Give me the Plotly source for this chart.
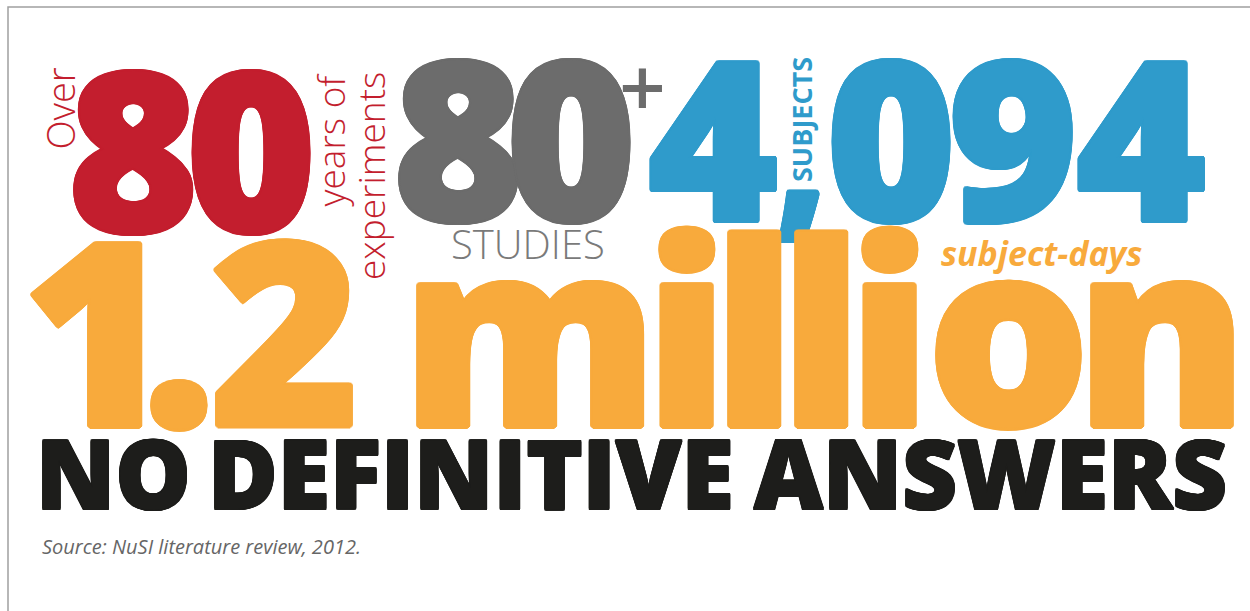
import math
import plotly.graph_objects as go

# ---- content (data) ----
years_value = "80"
studies_value = "80"
subjects_value = "4,094"
subject_days_value = "1.2 million"
over_label = "Over"
years_label_1 = "years of"
years_label_2 = "experiments"
plus_label = "+"
studies_label = "STUDIES"
subjects_label = "SUBJECTS"
days_label = "subject-days"
headline_words = ["NO", "DEFINITIVE", "ANSWERS"]
source = "Source: NuSI literature review, 2012."

# ---- colours ----
RED, GRAY, BLUE, ORANGE, BLACK = "#c31e2e", "#6c6c6c", "#2f9bcb", "#f8aa3c", "#1d1d1b"

# ---- layout (pixel positions / sizes, tight hand-set tracking) ----
W, H = 1250, 611
FONT = "Open Sans"
years_x = [133, 251]
studies_x = [458, 571]
subjects_x = [713, 801, 891, 1013, 1141]
days_x = [97, 179, 285, None, 530, 686, 754, 821, 889, 1008, 1162]
headline_x = [113, 471, 990]


def heavy(color, r):
    # thicken glyph strokes (extra-bold look) with a ring of text shadows
    parts = []
    for k in range(12):
        a = 2 * math.pi * k / 12
        parts.append(f"{r*math.cos(a):.2f}px {r*math.sin(a):.2f}px 0 {color}")
    return ", ".join(parts)


fig = go.Figure()
fig.add_trace(go.Scatter(x=[0, W], y=[0, H], mode="markers", marker=dict(opacity=0),
                         hoverinfo="skip", showlegend=False))

ann = []


def txt(x, y, t, size, color, weight=400, angle=0, style="normal", xanchor="center", shadow=None):
    f = dict(family=FONT, size=size, color=color, weight=weight, style=style)
    if shadow:
        f["shadow"] = shadow
    ann.append(dict(x=x, y=y, text=t, textangle=angle, xanchor=xanchor, yanchor="middle",
                    showarrow=False, font=f))


for ch, x in zip(years_value, years_x):
    txt(x, 146, ch, 222, RED, 800, shadow=heavy(RED, 2.3))
for ch, x in zip(studies_value, studies_x):
    txt(x, 135, ch, 222, GRAY, 800, shadow=heavy(GRAY, 2.3))
for ch, x in zip(subjects_value, subjects_x):
    if ch == ",":
        txt(x, 150, ch, 172, BLUE, 800, shadow=heavy(BLUE, 1.8))
    else:
        txt(x, 134.5, ch, 222, BLUE, 800, shadow=heavy(BLUE, 2.3))
for ch, x in zip(subject_days_value, days_x):
    if x is not None:
        txt(x, 326, ch, 256, ORANGE, 800, shadow=heavy(ORANGE, 2.5))

txt(59.5, 109, over_label, 38, RED, 300, angle=-90)
txt(330, 139.5, years_label_1, 37, RED, 300, angle=-90)
txt(370, 176, years_label_2, 37, RED, 300, angle=-90)
txt(642, 85, plus_label, 82, GRAY, 600)
txt(528, 243, studies_label, 40, "#7a7a7a", 300)
txt(801, 120, subjects_label, 27, BLUE, 700, angle=-90)
txt(1041, 253, days_label, 34, ORANGE, 700, style="italic")
for w, x in zip(headline_words, headline_x):
    txt(x, 472, w, 95, BLACK, 800, shadow=heavy(BLACK, 1.1))
txt(40, 546, source, 20, "#666666", 400, style="italic", xanchor="left")

fig.update_layout(
    width=W, height=H, margin=dict(l=0, r=0, t=0, b=0),
    paper_bgcolor="white", plot_bgcolor="white",
    xaxis=dict(range=[0, W], visible=False, fixedrange=True),
    yaxis=dict(range=[H, 0], visible=False, fixedrange=True),
    annotations=ann,
    shapes=[dict(type="path", path=f"M 8 {H} L 8 7 L {W} 7", xref="x", yref="y",
                 line=dict(color="#a0a0a0", width=1.5))],
)
fig.write_html("out.html", config={"displayModeBar": False},
               post_script="document.body.style.margin='0';document.body.style.overflow='hidden';")
